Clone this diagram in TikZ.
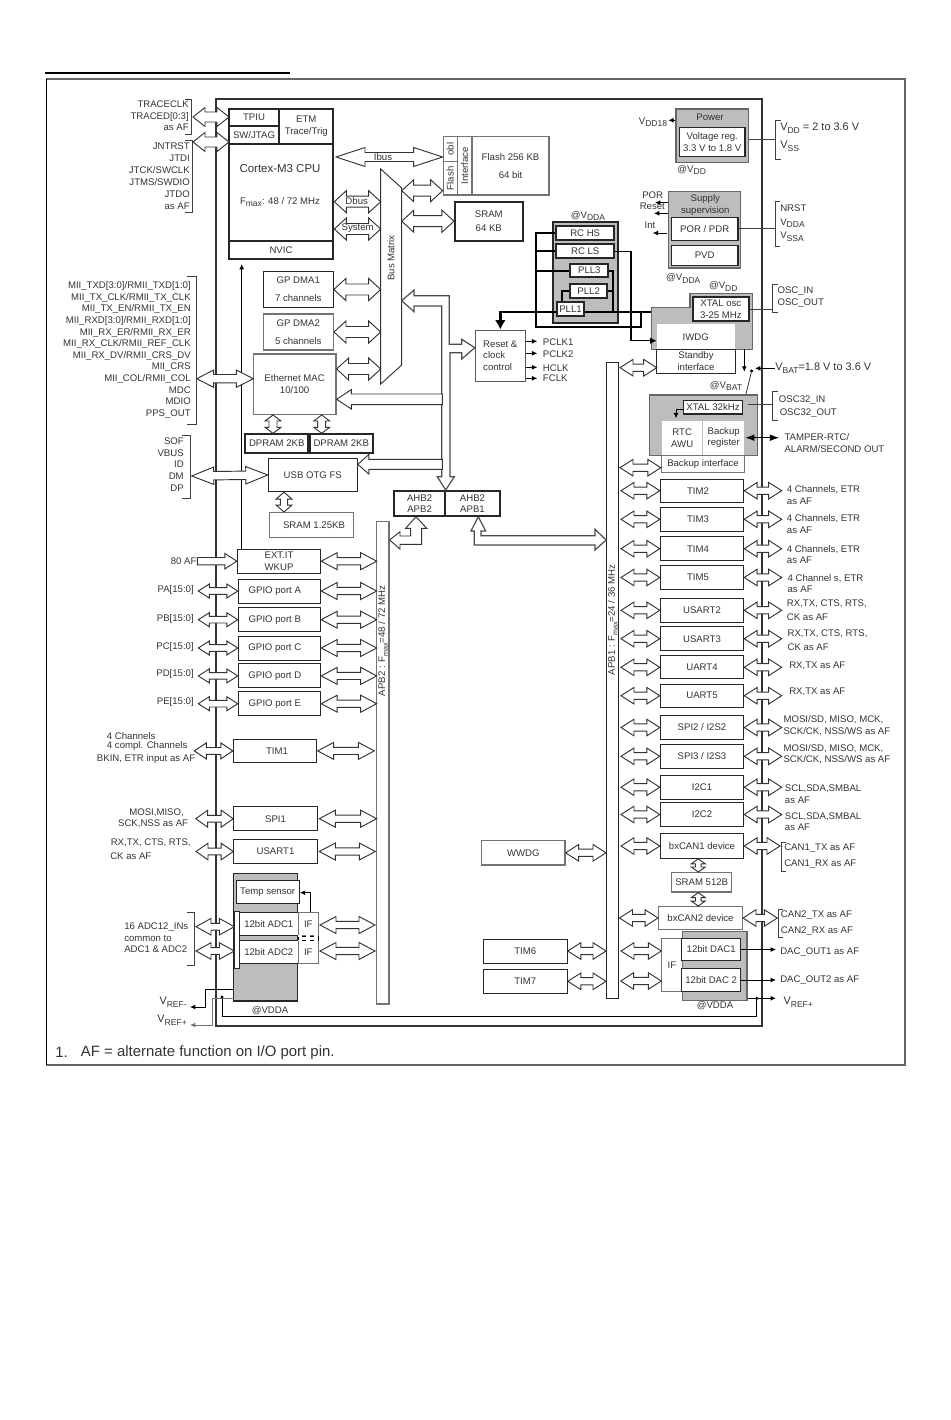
\documentclass[tikz,border=0pt]{standalone}
\usepackage{fontspec}
\setmainfont{Liberation Sans}
\usetikzlibrary{arrows.meta,calc}
\definecolor{blkgray}{gray}{0.74}
\newcommand{\fs}{\fontsize{7.2}{8.7}\selectfont}
\newcommand{\fsb}{\fontsize{8.2}{10}\selectfont}
\newcommand{\fsf}{\fontsize{11.2}{13}\selectfont}
\newcommand{\vsub}[1]{\raisebox{-.55ex}{\fontsize{6.4}{7}\selectfont #1}}
\newcommand{\vsmall}[1]{\raisebox{-.55ex}{\fontsize{5.4}{6}\selectfont #1}}
\def\bushl{13}\def\bushw{8.3}\def\bussw{3.6}
\tikzset{
  wh/.style 2 args={minimum width=#1*0.75pt,minimum height=#2*0.75pt},
  box/.style={draw=black!85,fill=white,line width=.75pt,inner sep=0pt,align=center,font=\fs,text=black!80},
  thickbox/.style={box,line width=1.5pt},
  grbox/.style={box,draw=black!55,line width=1pt},
  plain/.style={box,draw=none},
  blk/.style={draw=black!60,fill=blkgray,line width=1pt,inner sep=0pt},
  lblr/.style={anchor=east,align=right,inner sep=0pt,font=\fs,text=black!80},
  lbll/.style={anchor=west,align=left,inner sep=0pt,font=\fs,text=black!80},
  lblc/.style={align=center,inner sep=0pt,font=\fs,text=black!80},
  brk/.style={draw=black!75,line width=.75pt},
  arr/.style={draw=black,line width=.6pt,-{Latex[length=4pt,width=3.6pt]}},
  wire/.style={draw=black,line width=1.5pt},
  dot/.style={circle,fill=black,inner sep=0pt,minimum size=2.6pt},
  busline/.style={draw=black!80,fill=white,line width=.7pt,line join=miter},
  trunkline/.style={busline,draw=black!70,line width=.9pt},
  bsize/.code args={#1/#2/#3}{\def\bushl{#1}\def\bushw{#2}\def\bussw{#3}},
  busw/.style={bsize=12/11/5.5},
  busm/.style={bsize=17/8.7/4.2},
  buss/.style={bsize=11/7/3.3},
  bust/.style={bsize=5/7/2.8},
  bus/.style={busline,to path={
    -- ($(\tikztostart)!\bushl*.75pt!(\tikztotarget)!\bushw*.75pt!90:(\tikztotarget)$)
    -- ($(\tikztostart)!\bushl*.75pt!(\tikztotarget)!\bussw*.75pt!90:(\tikztotarget)$)
    -- ($(\tikztotarget)!\bushl*.75pt!(\tikztostart)!\bussw*.75pt!-90:(\tikztostart)$)
    -- ($(\tikztotarget)!\bushl*.75pt!(\tikztostart)!\bushw*.75pt!-90:(\tikztostart)$)
    -- (\tikztotarget)
    -- ($(\tikztotarget)!\bushl*.75pt!(\tikztostart)!-\bushw*.75pt!-90:(\tikztostart)$)
    -- ($(\tikztotarget)!\bushl*.75pt!(\tikztostart)!-\bussw*.75pt!-90:(\tikztostart)$)
    -- ($(\tikztostart)!\bushl*.75pt!(\tikztotarget)!-\bussw*.75pt!90:(\tikztotarget)$)
    -- ($(\tikztostart)!\bushl*.75pt!(\tikztotarget)!-\bushw*.75pt!90:(\tikztotarget)$)
    -- cycle}},
  busin/.style={busline,to path={
    ($(\tikztostart)!\bussw*.75pt!90:(\tikztotarget)$)
    -- ($(\tikztotarget)!\bushl*.75pt!(\tikztostart)!\bussw*.75pt!-90:(\tikztostart)$)
    -- ($(\tikztotarget)!\bushl*.75pt!(\tikztostart)!\bushw*.75pt!-90:(\tikztostart)$)
    -- (\tikztotarget)
    -- ($(\tikztotarget)!\bushl*.75pt!(\tikztostart)!-\bushw*.75pt!-90:(\tikztostart)$)
    -- ($(\tikztotarget)!\bushl*.75pt!(\tikztostart)!-\bussw*.75pt!-90:(\tikztostart)$)
    -- ($(\tikztostart)!-\bussw*.75pt!90:(\tikztotarget)$)
    -- cycle}}
}
\begin{document}
\begin{tikzpicture}[x=0.75pt,y=-0.75pt]
\useasboundingbox (0,0) rectangle (950,1420);
% page rule and frame
\draw[line width=1.5pt] (45,73) -- (290,73);
\draw[draw=black!60,line width=1.2pt] (46.5,79) rectangle (905,1065);
\draw[line width=.8pt] (46.5,79) -- (46.5,1065);
% supply rails
\draw[draw=black!80,line width=.8pt] (216,99) rectangle (762,1026);
\draw[arr] (241.7,549) -- (241.7,264);
\draw[line width=.6pt] (222,997) -- (222,1016) -- (756.7,1016) -- (756.7,998.3);
% bars and bus matrix
\node[grbox,wh={12.3}{482.3}] (apb2) at (382.8,762.9) {};
\node[box,wh={12.3}{636}] (apb1) at (612.8,680.7) {};
\draw[busline] (380.7,169) -- (401.7,188) -- (401.7,365) -- (380.7,384) -- cycle;
\node[lblc,rotate=90] (matrix) at (391,258) {Bus Matrix};
\node[lblc,rotate=90] (apb2lbl) at (383,641) {APB2 : F\vsmall{max}=48 / 72 MHz};
\node[lblc,rotate=90] (apb1lbl) at (612.8,620) {APB1 : F\vsmall{max}=24 / 36 MHz};
\coordinate (mleft) at (380.7,0);
\coordinate (mright) at (401.7,0);
% cpu
\node[thickbox,wh={50.6}{17.3}] (tpiu) at (254,117.3) {TPIU};
\node[thickbox,wh={50.6}{18}] (swjtag) at (254,135) {SW/JTAG};
\node[thickbox,wh={54}{35.3}] (etm) at (306.3,126.3) {ETM\\Trace/Trig};
\node[thickbox,wh={104.6}{96.7}] (cpu) at (281,192.3) {};
\node[thickbox,wh={104.6}{18.3}] (nvic) at (281,249.9) {NVIC};
\node[lblc,font=\fontsize{8.6}{10}\selectfont] (cpulbl) at (280,168.7) {Cortex-M3 CPU};
\node[lblc] (fmax) at (280,202) {F\vsub{max}: 48 / 72 MHz};
% flash and sram
\node[grbox,wh={77}{58.3}] (flash) at (510.5,165.9) {Flash 256 KB\\[4.5pt]64 bit};
\node[grbox,rotate=90,wh={25}{14}] (obl) at (450.3,149.2) {obl};
\node[grbox,rotate=90,wh={33.3}{14}] (flashif) at (450.3,178.3) {Flash};
\node[grbox,rotate=90,wh={58.3}{14.7}] (iface) at (464.6,165.9) {Interface};
\node[thickbox,wh={67.7}{39}] (sram) at (488.8,221.2) {SRAM\\[2pt]64 KB};
% dma, ethernet, usb
\node[box,wh={70}{35.6}] (dma1) at (298.3,289.5) {GP DMA1\\[4.8pt]7 channels};
\node[grbox,wh={70}{36}] (dma2) at (298.3,332) {GP DMA2\\[4.8pt]5 channels};
\node[grbox,wh={82.7}{60.3}] (mac) at (294.6,384.2) {Ethernet  MAC\\10/100};
\node[thickbox,wh={63}{19.3}] (dpram1) at (276.8,443.6) {DPRAM 2KB};
\node[thickbox,wh={62.7}{19.3}] (dpram2) at (341.3,443.6) {DPRAM 2KB};
\node[box,wh={89}{33.4}] (usb) at (312.8,475) {USB OTG FS};
\node[grbox,wh={84}{24.6}] (sramusb) at (311.3,525) {\hspace*{4pt}SRAM 1.25KB};
\node[thickbox,wh={50.7}{25}] (ahbb) at (419.6,503.5) {AHB2\\APB2};
\node[thickbox,wh={55}{25}] (ahba) at (472.5,503.5) {AHB2\\APB1};
% apb2 peripherals
\node[box,wh={83.4}{24.3}] (extit) at (279,561.2) {EXT.IT\\WKUP};
\node[box,wh={82.4}{24}] (gpioa) at (279.5,591) {GPIO port A\hspace*{7pt}};
\node[box,wh={82.4}{24}] (gpiob) at (279.5,619.7) {GPIO port B\hspace*{7pt}};
\node[box,wh={82.4}{24}] (gpioc) at (279.5,648) {GPIO port C\hspace*{7pt}};
\node[box,wh={82.4}{24}] (gpiod) at (279.5,675.9) {GPIO port D\hspace*{7pt}};
\node[box,wh={82.4}{24}] (gpioe) at (279.5,703.7) {GPIO port E\hspace*{7pt}};
\node[box,wh={83.4}{23.7}] (tim1) at (275,750.9) {\hspace*{3pt}TIM1};
\node[box,wh={83.6}{24}] (spi1) at (275.5,818.7) {SPI1};
\node[box,wh={83.6}{24.4}] (usart1) at (275.5,851.5) {USART1};
% adc
\node[blk,draw=black!85,wh={64}{127.7}] (adcblk) at (265.7,937.2) {};
\node[box,wh={63.3}{23.3}] (temp) at (267.7,891.7) {Temp sensor};
\node[box,wh={59}{23}] (adc1) at (268.8,924.2) {12bit ADC1};
\node[box,wh={59}{22.6}] (adc2) at (268.8,952) {12bit ADC2};
\node[grbox,fill=white,wh={20}{23.3}] (if1) at (308.3,924.3) {IF};
\node[grbox,fill=white,wh={20}{22.6}] (if2) at (308.3,952) {IF};
\draw[draw=black,fill=white,line width=.7pt] (298.3,936) rectangle (318.3,940.7);
\draw[dashed,draw=white,line width=.9pt] (298.3,936) -- (318.3,936);
\draw[dashed,draw=white,line width=.9pt] (298.3,940.7) -- (318.3,940.7);
\node[thickbox,line width=1pt,wh={5}{56.6}] (adcbar) at (236.8,940) {};
\node[lblc] (adcv) at (270,1010.7) {@VDDA};
\draw[arr] (if1.north -| 310.7,912.7) |- (temp.east |- 310.7,892.7);
% vref wires
\coordinate (vrefm) at (233.7,989);
\coordinate (vrefp) at (233.7,998);
\node[lblr,font=\fsb] (vmlbl) at (187,1002) {V\vsub{REF-}};
\node[lblr,font=\fsb] (vplbl) at (187,1020) {V\vsub{REF+}};
\draw[arr] (vrefm) -- (205,989) -- (205,1007) -- (190,1007);
\draw[arr,draw=black!55] (vrefp) -- (212,998) -- (212,1025) -- (190,1025);
\node[dot] (dotl) at (222,997) {};
% right column power
\node[blk,wh={72.3}{53.3}] (power) at (712.2,135.7) {};
\node[lblc] (powerlbl) at (710,117.7) {Power};
\node[box,line width=1pt,wh={65.3}{28.6}] (vreg) at (712.3,142) {Voltage reg.\\3.3 V to 1.8 V};
\node[lblc] (vdd18) at (653,122.3) {V\vsub{DD18}};
\draw[arr] (power.west |- 676,120.3) -- (668.3,120.3);
\node[lblc] (vddat) at (691.7,170) {@V\vsub{DD}};
\draw[brk] (780.7,120) -| (775.7,159.3) -- (780.7,159.3);
\draw[brk] (power.east |- 0,139.3) -- (775.7,139.3);
\node[lbll,font=\fsb] (vddlbl) at (780,128.3) {V\vsub{DD} = 2 to 3.6 V};
\node[lbll,font=\fsb] (vsslbl) at (780,146) {V\vsub{SS}};
\node[blk,wh={71.6}{76.3}] (supply) at (704.5,229.8) {};
\node[lblc] (supplylbl) at (705.3,205) {Supply\\supervision};
\node[box,line width=1pt,wh={66.7}{23}] (por) at (704.7,228.8) {POR / PDR};
\node[box,line width=1pt,wh={66.7}{20.4}] (pvd) at (704.7,255.5) {PVD};
\node[lblc] (porlbl) at (652.7,195.3) {POR};
\node[lblc] (rstlbl) at (652.3,206.3) {Reset};
\node[lblc] (intlbl) at (650,225) {Int};
\draw[arr] (supply.west |- 668,202.7) -- (655,202.7);
\draw[arr] (supply.west |- 668,213.3) -- (654,213.3);
\draw[arr] (666.7,233) -- (652.7,233);
\node[lblc] (vddal) at (683.3,278.3) {@V\vsub{DDA}};
\draw[brk] (780,201.7) -| (775,246) -- (780,246);
\draw[brk] (por.east) -- (775,228.8);
\node[lbll] (nrst) at (780,208) {NRST};
\node[lbll] (vdda) at (780,223.3) {V\vsub{DDA}};
\node[lbll] (vssa) at (780,236.7) {V\vsub{SSA}};
% clocks
\node[lblc] (clkv) at (588,216) {@V\vsub{DDA}};
\node[blk,draw=black!85,line width=1.5pt,wh={65}{100.7}] (clkblk) at (585.5,272.3) {};
\node[thickbox,wh={57.7}{14}] (rchs) at (585.2,232.7) {RC HS};
\node[thickbox,wh={57.7}{14}] (rcls) at (585.2,251.3) {RC LS};
\node[thickbox,wh={38}{13}] (pllc) at (589.3,270.5) {PLL3};
\node[thickbox,wh={37.3}{14.3}] (pllb) at (588.7,291.2) {PLL2};
\node[thickbox,wh={27.6}{14}] (plla) at (570.5,308.7) {PLL1};
\filldraw[blk,line join=miter] (651.3,307.3) -- (690,307.3) -- (690,293.7) -- (752.3,293.7) -- (752.3,349.3) -- (651.3,349.3) -- cycle;
\node[thickbox,wh={56.3}{24}] (xtal) at (720.8,309) {XTAL osc\\3-25 MHz};
\node[plain,wh={78}{25}] (iwdg) at (695.7,336.8) {IWDG};
\node[box,wh={78.6}{24}] (standby) at (696,361.3) {Standby\\interface};
\node[box,align=left,wh={50}{51.3},draw=black!65] (reset) at (500.3,355.7) {Reset \&\\clock\\control};
\coordinate (loopl) at (536.3,326.7);
\coordinate (loopr) at (641.3,326.7);
\coordinate (plly) at (0,312);
\draw[wire] (rchs.west) -- (rchs.west -| loopl) -- (loopl) -- (loopr) -- (loopr |- plly);
\draw[wire] (rcls.west) -- (rcls.west -| loopl);
\draw[wire] (pllc.west) -- (pllc.west -| loopl);
\draw[wire] (pllb.west) -| (plla.north -| 561.7,300);
\draw[wire] (pllc.east) -| (613.3,311);
\draw[wire] (pllb.east) -- (613.3,291.2);
\draw[wire] (plla.east |- plly) -- (651.3,312);
\draw[line width=1pt,-{Latex[length=5pt,width=5pt]}] (rcls.east) -| (631,340.7) -- (656.7,340.7);
\draw[wire,line width=2pt,-{Latex[length=7pt,width=8pt]}] (plla.west |- plly) -| (reset.north);
\draw[arr] (reset.east |- 525.3,341.3) -- (537.3,341.3);
\draw[arr] (reset.east |- 525.3,353.3) -- (537.3,353.3);
\draw[arr] (reset.east |- 525.3,367.3) -- (537.3,367.3);
\draw[arr] (reset.east |- 525.3,378.3) -- (537.3,378.3);
\node[lbll] (pclka) at (542.7,342.3) {PCLK1};
\node[lbll] (pclkb) at (542.7,354.3) {PCLK2};
\node[lbll] (hclk) at (542.7,368) {HCLK};
\node[lbll] (fclk) at (542.7,378.5) {FCLK};
\node[lblc] (xtalv) at (723.3,286.7) {@V\vsub{DD}};
\draw[brk] (777.7,284) -| (772.7,312) -- (777.7,312);
\draw[brk] (xtal.east) -- (772.7,309);
\node[lbll] (oscin) at (777.3,291.3) {OSC\_IN};
\node[lbll] (oscout) at (777.3,303) {OSC\_OUT};
% vbat
\node[dot] (vbatsw) at (751.7,371) {};
\node[lbll,font=\fsb] (vbatlbl) at (775,368.3) {V\vsub{BAT}=1.8 V to 3.6 V};
\draw[arr] (vbatlbl.west) -- (755,368.3);
\draw[arr] (744.3,349.3) -- (744.3,371.7);
\draw[draw=black!80,line width=.6pt] (vbatsw) -- (745.7,395);
\node[lblc] (vbatv) at (726,386) {@V\vsub{BAT}};
% rtc
\node[blk,wh={108}{60.7}] (rtcblk) at (703.3,425.3) {};
\node[box,line width=1pt,wh={59.4}{13.3}] (xtall) at (713,407.3) {XTAL 32kHz};
\node[plain,wh={40.3}{35}] (rtc) at (682.2,438.2) {RTC\\AWU};
\node[plain,wh={40.7}{34}] (bkp) at (723.7,437.7) {Backup\\register};
\node[box,draw=black!55,wh={83.4}{16.6}] (bkpif) at (703,464) {Backup interface};
\draw[arr] (xtall.west |- 683,409) -| (676,418.3);
\draw[brk] (777.7,391.7) -| (772.7,420) -- (777.7,420);
\draw[brk] (748.3,404.3) -- (772.7,404.3);
\node[lbll] (osca) at (778.7,400.3) {OSC32\_IN};
\node[lbll] (oscb) at (779.5,412.7) {OSC32\_OUT};
\coordinate (tampin) at (745,437.7);
\node[lbll] (tamper) at (784.3,443.2) {TAMPER-RTC/\\ALARM/SECOND OUT};
\draw[line width=1pt,{Latex[length=7pt,width=5pt]}-{Latex[length=7pt,width=5pt]}] (tampin) -- (779.3,437.7);
% apb1 peripherals
\node[box,wh={83.4}{23.3}] (tim2) at (702,490.7) {TIM2\hspace*{6pt}};
\node[box,wh={83.4}{24}] (tim3) at (702,519.3) {TIM3\hspace*{6pt}};
\node[box,wh={83.4}{24}] (tim4) at (702,548.7) {TIM4\hspace*{6pt}};
\node[box,wh={83.4}{23.6}] (tim5) at (702,577.5) {TIM5\hspace*{6pt}};
\node[box,wh={83.4}{24}] (usart2) at (702,610.3) {USART2};
\node[box,wh={83.4}{24}] (usart3) at (702,638.7) {USART3};
\node[box,wh={83.4}{23.3}] (uart4) at (702,667.3) {UART4};
\node[box,wh={83.4}{23.3}] (uart5) at (702,695.7) {UART5};
\node[box,wh={83.4}{23.6}] (spi2) at (702,727.5) {SPI2 / I2S2};
\node[box,wh={83.4}{24}] (spi3) at (702,756.3) {SPI3 / I2S3};
\node[box,wh={83.4}{23.7}] (iica) at (702,787.2) {I2C1};
\node[box,wh={83.4}{23.6}] (iicb) at (702,814.5) {I2C2};
\node[box,wh={83.4}{24.6}] (cana) at (702,846) {bxCAN1 device};
\node[grbox,wh={60}{19.3}] (sramcan) at (701.7,882.3) {SRAM 512B};
\node[grbox,wh={83.6}{22.6}] (canb) at (700.5,918) {bxCAN2 device};
\node[grbox,wh={83.3}{24.3}] (wwdg) at (523.3,852.8) {WWDG};
\node[box,wh={84}{24}] (tim6) at (525.3,951) {TIM6};
\node[box,wh={84}{24}] (tim7) at (525.3,981.3) {TIM7};
\node[blk,wh={64.3}{69}] (dacblk) at (714.8,966.2) {};
\node[box,draw=black!55,wh={21.4}{53.4}] (dacif) at (672,965) {IF};
\node[box,wh={59}{22.4}] (daca) at (711.2,949.5) {12bit  DAC1};
\node[box,wh={59}{23.4}] (dacb) at (711.2,980) {12bit DAC 2};
\node[lblc] (dacv) at (715,1006) {@VDDA};
\node[dot] (dotr) at (756.7,998.3) {};
\draw[arr] (daca.east) -- (776,949.5);
\draw[arr] (dacb.east) -- (776,980);
\draw[arr,line width=.8pt] (dacblk.east |- 747,998.3) -- (776,998.3);
\node[lbll] (daclblb) at (780,951.7) {DAC\_OUT1 as AF};
\node[lbll] (daclblc) at (780,980) {DAC\_OUT2 as AF};
\node[lbll,font=\fsb] (vreflbl) at (783.3,1002) {V\vsub{REF+}};
% hollow buses, cpu side
\draw[bus,bsize=12/9.5/5] (193,117) to (229,117);
\draw[bus,bsize=12/9.5/5] (193,142) to (229,142);
\draw[bus,bsize=29/9.5/4.5] (336,157) to (flashif.north |- 0,157);
\node[lblc] (ibus) at (383,157) {Ibus};
\draw[bus,busw] (mright |- 0,190.7) to (flashif.north |- 0,190.7);
\draw[bus,busw] (mright |- sram.west) to (sram.west);
\draw[bus,busw] (cpu.east |- 0,201.7) to (mleft |- 0,201.7);
\node[lblc] (dbus) at (356.7,200.7) {Dbus};
\draw[bus,busw] (cpu.east |- 0,229) to (mleft |- 0,229);
\node[lblc] (sysbus) at (357.7,228) {System};
\draw[bus,busw] (dma1.east) to (mleft |- dma1.east);
\draw[bus,busw] (dma2.east) to (mleft |- dma2.east);
\draw[bus,busw] (mac.east |- 0,369) to (mleft |- 0,369);
\draw[bus,busm] (196.7,378.7) to (253.3,378.7);
\draw[bus,bsize=6/8/4] (273,415) to (273,433.3);
\draw[bus,bsize=6/8/4] (321.7,415) to (321.7,433.3);
\draw[bus,bsize=22/8.7/4.2] (191.7,476) to (usb.west);
\draw[bus,bsize=7/8/3.6] (usb.south -| 284,0) to (sramusb.north -| 284,0);
% hollow buses, shared ahb trunk
\draw[trunkline] (mright |- 0,300.7) -- (414,290) -- (414,295.7) -- (449.3,295.7) -- (449.3,344.3)
  -- (461.7,344.3) -- (461.7,339.3) -- (reset.west |- 0,347.7) -- (461.7,359) -- (461.7,352.7) -- (450,352.7)
  -- (450,476.7) -- (454.3,476.7) -- (445.7,490) -- (437.3,476.7) -- (441.7,476.7) -- (441.7,306)
  -- (414,306) -- (414,311.7) -- cycle;
\coordinate (trunk) at (442.3,0);
\draw[busin,bsize=14.7/9.7/5.3] (trunk |- 0,399.3) to (mac.east |- 0,399.3);
\draw[busin,bsize=11/9.8/5] (trunk |- 0,464.3) to (usb.east |- 0,464.3);
\draw[busline] (apb2.east |- 0,540) -- (400,531.7) -- (400,536) -- (410.7,536) -- (410.7,528.3) -- (405.7,528.3)
  -- (416,516.7) -- (426.7,528.3) -- (421.7,528.3) -- (421.7,544.3) -- (400,544.3) -- (400,549) -- cycle;
\draw[trunkline] (478.3,516.7) -- (485.7,531) -- (481,531) -- (481,535.7) -- (595,535.7) -- (595,529.3)
  -- (apb1.west |- 0,540) -- (595,550) -- (595,545) -- (474.3,545) -- (474.3,531) -- (471,531) -- cycle;
% hollow buses, apb2
\coordinate (rbar) at (376.7,0);
\draw[busin,bsize=12/7.8/3.7] (197.3,561.2) to (extit.west);
\draw[bus,buss] (198.3,591) to (gpioa.west);
\draw[bus,buss] (198.3,619.7) to (gpiob.west);
\draw[bus,buss] (198.3,648) to (gpioc.west);
\draw[bus,buss] (198.3,675.9) to (gpiod.west);
\draw[bus,buss] (198.3,703.7) to (gpioe.west);
\draw[bus,bsize=12/8/3.4] (194.3,750.9) to (tim1.west);
\draw[bus,bsize=12/8.5/3.4] (195.7,818.7) to (spi1.west);
\draw[bus,bsize=12/8.3/3.4] (196,851.5) to (usart1.west);
\draw[bus,bsize=15/8.3/3.4] (196,926.7) to (234.3,926.7);
\draw[bus,bsize=15/8.3/3.4] (196,951) to (234.3,951);
\draw[bus,bsize=16/8.5/3.6] (extit.east) to (rbar |- extit.east);
\draw[bus,bsize=16/8.5/3.6] (gpioa.east) to (rbar |- gpioa.east);
\draw[bus,bsize=16/8.5/3.6] (gpiob.east) to (rbar |- gpiob.east);
\draw[bus,bsize=16/8.5/3.6] (gpioc.east) to (rbar |- gpioc.east);
\draw[bus,bsize=16/8.5/3.6] (gpiod.east) to (rbar |- gpiod.east);
\draw[bus,bsize=16/8.5/3.6] (gpioe.east) to (rbar |- gpioe.east);
\draw[bus,bsize=16/8.5/3.6] (317.7,750.9) to (374.3,750.9);
\draw[bus,bsize=16/8.5/3.6] (319.3,818.7) to (rbar |- spi1.east);
\draw[bus,bsize=16/8.5/3.6] (319.3,851.5) to (375.3,851.5);
\draw[bus,bsize=16/8.5/3.6] (320,925) to (375,925);
\draw[bus,bsize=16/8.5/3.6] (320,951) to (375,951);
% hollow buses, apb1
\coordinate (lbar) at (621,0);
\coordinate (rpin) at (781.7,0);
\draw[bus] (620,367.7) to (656.7,367.7);
\draw[bus] (620,467.7) to (bkpif.west |- 0,467.7);
\draw[bus] (lbar |- tim2.west) to (tim2.west);
\draw[bus] (lbar |- tim3.west) to (tim3.west);
\draw[bus] (lbar |- tim4.west) to (tim4.west);
\draw[bus] (lbar |- tim5.west) to (tim5.west);
\draw[bus] (lbar |- usart2.west) to (usart2.west);
\draw[bus] (lbar |- usart3.west) to (usart3.west);
\draw[bus] (lbar |- uart4.west) to (uart4.west);
\draw[bus] (lbar |- uart5.west) to (uart5.west);
\draw[bus] (lbar |- spi2.west) to (spi2.west);
\draw[bus] (lbar |- spi3.west) to (spi3.west);
\draw[bus] (lbar |- iica.west) to (iica.west);
\draw[bus] (lbar |- iicb.west) to (iicb.west);
\draw[bus] (lbar |- cana.west) to (cana.west);
\draw[bus] (619.5,918) to (canb.west);
\draw[bus] (621,951) to (661.3,951);
\draw[bus] (620.7,981) to (661.3,981);
\draw[bus] (tim2.east) to (rpin |- tim2.east);
\draw[bus] (tim3.east) to (rpin |- tim3.east);
\draw[bus] (tim4.east) to (rpin |- tim4.east);
\draw[bus] (tim5.east) to (rpin |- tim5.east);
\draw[bus] (usart2.east) to (rpin |- usart2.east);
\draw[bus] (usart3.east) to (rpin |- usart3.east);
\draw[bus] (uart4.east) to (rpin |- uart4.east);
\draw[bus] (uart5.east) to (rpin |- uart5.east);
\draw[bus] (spi2.east) to (rpin |- spi2.east);
\draw[bus] (spi3.east) to (rpin |- spi3.east);
\draw[bus] (iica.east) to (rpin |- iica.east);
\draw[bus] (iicb.east) to (rpin |- iicb.east);
\draw[bus] (cana.east) to (780,846);
\draw[bus] (canb.east) to (777.3,918);
\draw[bus,bust] (cana.south -| 698.3,0) to (sramcan.north -| 698.3,0);
\draw[bus,bust] (sramcan.south -| 698.3,0) to (canb.north -| 698.3,0);
\draw[bus] (wwdg.east) to (606,852.8);
\draw[bus] (tim6.east) to (606,951);
\draw[bus] (tim7.east) to (606,981.3);
% left labels
\node[lblr] (tracelbl) at (189,116) {TRACECLK\\TRACED[0:3]\\as AF};
\draw[brk] (185,99) -| (191,134) -- (185,134);
\node[lblr,font=\fontsize{7.2}{9}\selectfont] (jtaglbl) at (190,176) {JNTRST\\JTDI\\JTCK/SWCLK\\JTMS/SWDIO\\JTDO\\as AF};
\draw[brk] (185,140) -| (192,212) -- (185,212);
\node[lblr] (miilbl) at (191,350) {MII\_TXD[3:0]/RMII\_TXD[1:0]\\MII\_TX\_CLK/RMII\_TX\_CLK\\MII\_TX\_EN/RMII\_TX\_EN\\MII\_RXD[3:0]/RMII\_RXD[1:0]\\MII\_RX\_ER/RMII\_RX\_ER\\MII\_RX\_CLK/RMII\_REF\_CLK\\MII\_RX\_DV/RMII\_CRS\_DV\\MII\_CRS\\MII\_COL/RMII\_COL\\MDC\\MDIO\\PPS\_OUT};
\draw[brk] (186.7,276) -| (196,424.3) -- (186.7,424.3);
\node[lblr] (usblbl) at (184,464.5) {SOF\\VBUS\\ID\\DM\\DP};
\draw[brk] (181.7,435.7) -| (190.7,498.3) -- (181.7,498.3);
\node[lblr] (aflbl) at (196.7,560.7) {80 AF};
\node[lblr] (palbl) at (194,590.3) {PA[15:0]};
\node[lblr] (pblbl) at (194,618.7) {PB[15:0]};
\node[lblr] (pclbl) at (194,646.7) {PC[15:0]};
\node[lblr] (pdlbl) at (194,674.3) {PD[15:0]};
\node[lblr] (pelbl) at (194,702) {PE[15:0]};
\node[lbll] (timlbl) at (106.7,736) {4 Channels};
\node[lbll] (timlblb) at (106.7,746.5) {4 compl.  Channels};
\node[lbll] (timlblc) at (96.7,759) {BKIN, ETR input as AF};
\node[lblr] (spilbl) at (184,812.7) {MOSI,MISO,};
\node[lblr] (spilblb) at (188.3,824) {SCK,NSS as AF};
\node[lbll] (uslbl) at (110.5,842.7) {RX,TX, CTS, RTS,};
\node[lbll] (uslblb) at (110,855.7) {CK as AF};
\node[lbll] (adclbl) at (124,938) {16 ADC12\_INs\\common to\\ADC1 \& ADC2};
\draw[brk] (186.7,912.7) -| (194,965.7) -- (186.7,965.7);
% right labels
\node[lbll] (timb) at (786.7,490) {4 Channels, ETR};
\node[lbll] (timbb) at (786.7,501) {as AF};
\node[lbll] (timc) at (786.7,518.7) {4 Channels, ETR};
\node[lbll] (timcb) at (786.7,530.3) {as AF};
\node[lbll] (timd) at (786.7,549.3) {4 Channels, ETR};
\node[lbll] (timdb) at (786.7,560.7) {as AF};
\node[lbll] (time) at (787.3,578.3) {4 Channel s, ETR};
\node[lbll] (timeb) at (787.3,589.3) {as AF};
\node[lbll] (usb2) at (786.7,603.3) {RX,TX, CTS, RTS,};
\node[lbll] (usb2b) at (786.7,617) {CK as AF};
\node[lbll] (usb3) at (787.3,634) {RX,TX, CTS, RTS,};
\node[lbll] (usb3b) at (787.3,646.7) {CK as AF};
\node[lbll] (uart4l) at (789,666) {RX,TX as AF};
\node[lbll] (uart5l) at (789,692.3) {RX,TX as AF};
\node[lbll] (spi2l) at (783.3,725.7) {MOSI/SD, MISO, MCK,\\SCK/CK, NSS/WS as AF};
\node[lbll] (spi3l) at (783.3,754.1) {MOSI/SD, MISO, MCK,\\SCK/CK, NSS/WS as AF};
\node[lbll] (iical) at (784.7,794.2) {SCL,SDA,SMBAL\\as AF};
\node[lbll] (iicbl) at (784.7,821.7) {SCL,SDA,SMBAL\\as AF};
\draw[brk] (785.7,842.7) -| (781.7,871) -- (785.7,871);
\node[lbll] (canal) at (784,848.3) {CAN1\_TX as AF};
\node[lbll] (canalb) at (784,863.7) {CAN1\_RX as AF};
\draw[brk] (783.3,909.3) -| (778.7,937.7) -- (783.3,937.7);
\node[lbll] (canbl) at (780.7,915.3) {CAN2\_TX as AF};
\node[lbll] (canblb) at (780.7,931) {CAN2\_RX as AF};
% footnote
\node[lbll,font=\fsf] (fnnum) at (55,1052.7) {1.};
\node[lbll,font=\fsf] (fnote) at (80.7,1052.7) {AF = alternate function on I/O port pin.};
\end{tikzpicture}
\end{document}
